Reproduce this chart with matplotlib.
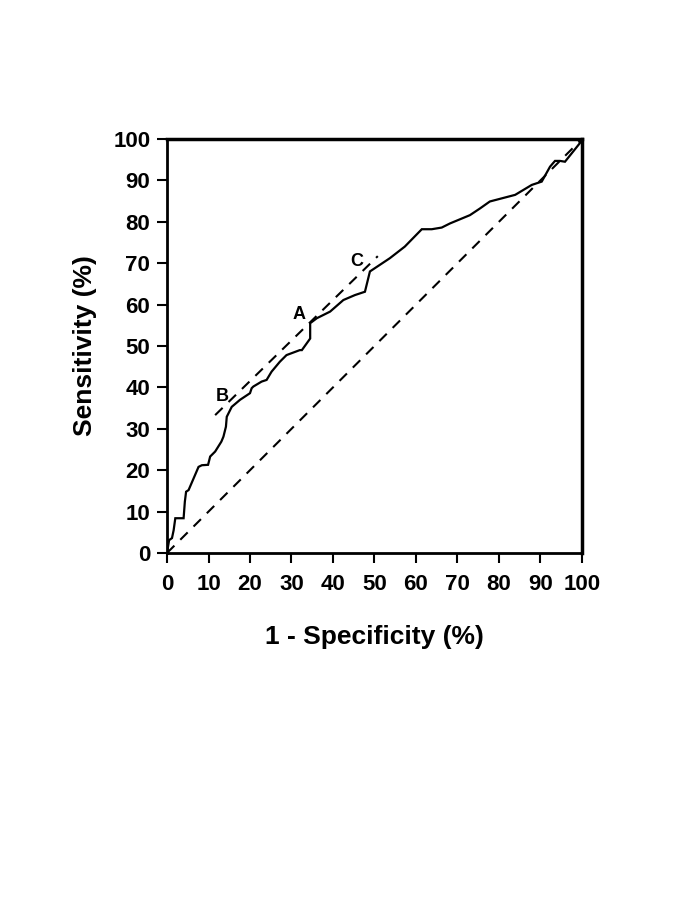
import matplotlib
matplotlib.use('Agg')
import matplotlib.pyplot as plt

# ROC curve (1 - specificity, sensitivity), in %
fpr = [0, 0.5, 1.2, 1.6, 2.0, 4.0, 4.3, 4.6, 5.2, 7.6, 8.4, 9.9, 10.4, 11.6,
       13.1, 13.6, 14.2, 14.4, 15.6, 17.6, 20.0, 20.4, 20.8, 22.8, 24.0, 25.2,
       27.2, 28.8, 32.0, 32.5, 34.5, 34.5, 36.1, 39.3, 42.5, 45.3, 47.7, 48.9,
       51.3, 53.7, 57.3, 61.4, 63.8, 66.2, 68.2, 73.0, 75.4, 77.8, 83.9, 87.9,
       90.3, 92.3, 93.5, 94.7, 95.9, 99.5, 100]
tpr = [0, 3.1, 3.6, 5.5, 8.4, 8.4, 12.4, 14.8, 15.2, 20.8, 21.2, 21.3, 23.3,
       24.5, 26.9, 28.1, 30.5, 32.9, 35.3, 37.0, 38.6, 39.8, 40.2, 41.4, 41.8,
       43.8, 46.2, 47.8, 49.0, 49.0, 51.8, 55.5, 56.7, 58.3, 61.1, 62.3, 63.1,
       68.0, 69.6, 71.2, 74.0, 78.2, 78.2, 78.6, 79.6, 81.6, 83.2, 84.9, 86.5,
       88.9, 89.7, 93.3, 94.7, 94.7, 94.5, 99.0, 100]

# reference diagonal and tangent line
diag_x = [0, 100]
diag_y = [0, 100]
tan_x = [11.6, 50.8]
tan_y = [33.3, 71.7]

# point labels
pt_names = ['B', 'A', 'C']
pt_x = [13.3, 31.8, 45.8]
pt_y = [37.7, 57.7, 70.5]

ticks = list(range(0, 101, 10))

plt.rcParams['font.family'] = ['Liberation Sans', 'DejaVu Sans']
plt.rcParams['font.weight'] = 'bold'

fig = plt.figure(figsize=(6.85, 9.13), dpi=100)
ax = fig.add_axes([0.2438, 0.3943, 0.6058, 0.4535])

ax.plot(fpr, tpr, color='black', lw=1.6, solid_joinstyle='miter')
ax.plot(diag_x, diag_y, color='black', lw=1.5, dashes=(5, 4))
ax.plot(tan_x, tan_y, color='black', lw=1.5, dashes=(5, 4))

for name, x, y in zip(pt_names, pt_x, pt_y):
    ax.text(x, y, name, ha='center', va='center', fontsize=13,
            fontweight='bold')

ax.set_xlim(0, 100)
ax.set_ylim(0, 100)
ax.set_xticks(ticks)
ax.set_yticks(ticks)
ax.tick_params(direction='out', length=7, width=1.5, labelsize=16)
ax.tick_params(axis='x', pad=8)
ax.tick_params(axis='y', pad=5)
for lab in ax.get_xticklabels() + ax.get_yticklabels():
    lab.set_fontweight('bold')
for side in ['left', 'bottom']:
    ax.spines[side].set_linewidth(2)
for side in ['top', 'right']:
    ax.spines[side].set_linewidth(2.5)

ax.set_xlabel('1 - Specificity (%)', fontsize=19, fontweight='bold',
              labelpad=22)
ax.set_ylabel('Sensitivity (%)', fontsize=19, fontweight='bold', labelpad=12)

fig.savefig('out.png', dpi=100)
